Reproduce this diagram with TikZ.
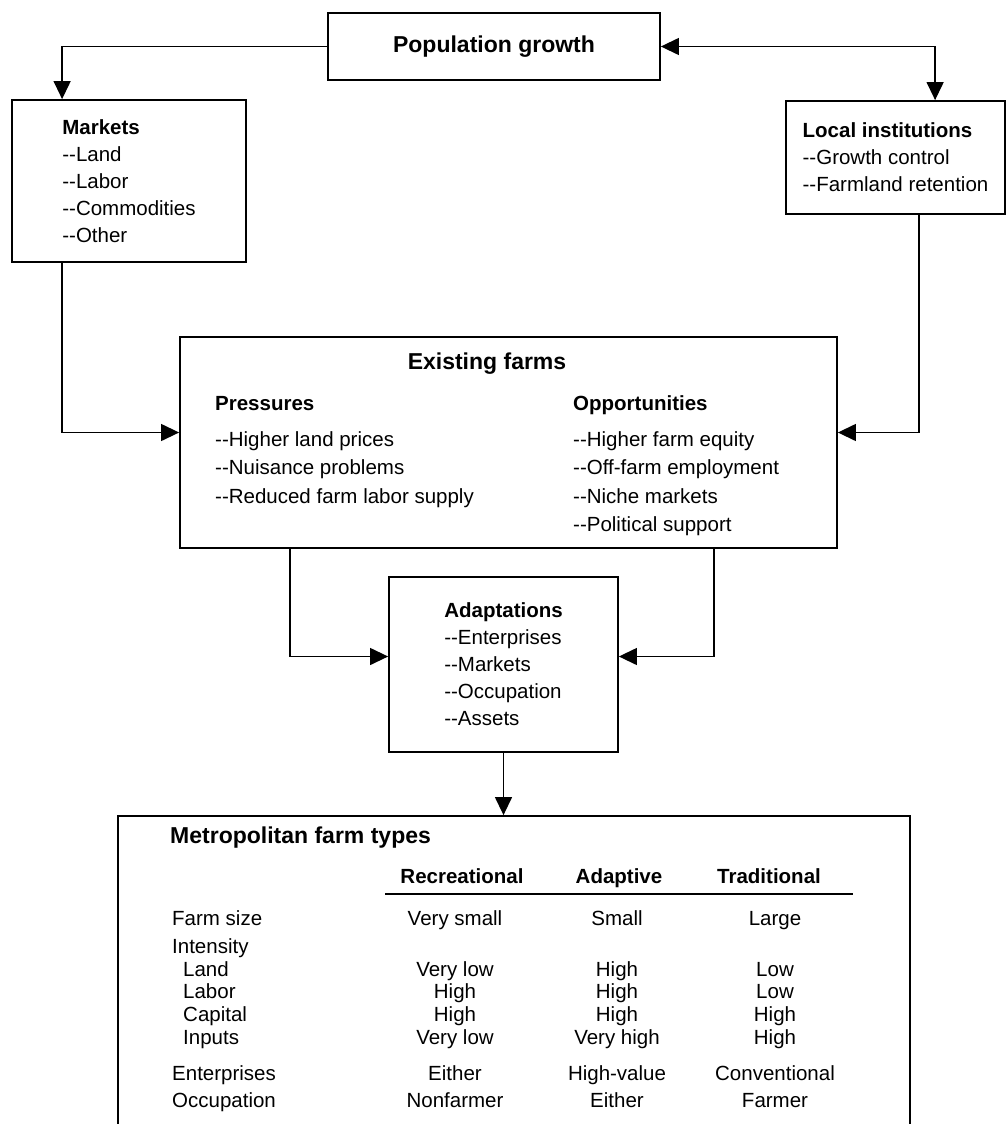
\documentclass[tikz,border=0pt]{standalone}
\usepackage{fontspec}
\setmainfont{Liberation Sans}
\usetikzlibrary{arrows.meta}

\tikzset{
  >={Triangle[length=18pt,width=17pt]},
  blok/.style={draw,line width=1.8pt,inner sep=0pt,align=left,font=\fontsize{20.5}{27}\selectfont},
  txt/.style={inner sep=0pt,align=left,text height=15pt,text depth=4.5pt,font=\fontsize{20.5}{27}\selectfont},
  kop/.style={txt,font=\fontsize{20.5}{27}\selectfont\bfseries},
  titel/.style={txt,text height=16.5pt,font=\fontsize{23}{27}\selectfont\bfseries},
  pijl/.style={line width=1.3pt,->},
}

\begin{document}
\begin{tikzpicture}[x=1pt,y=-1pt]
\useasboundingbox (0,0) rectangle (1007,1124);
\clip (0,0) rectangle (1007,1124);
%Построение блоков
\node[blok,minimum width=332pt,minimum height=67pt,font=\fontsize{23}{27}\selectfont\bfseries] (pop) at (494,46.5) {Population growth};
\node[blok,minimum width=234pt,minimum height=162pt] (mk) at (129,181)
  {\textbf{Markets}\\-{}-Land\\-{}-Labor\\-{}-Commodities\\-{}-Other};
\node[blok,minimum width=219pt,minimum height=113pt] (li) at (895.5,157.5)
  {\textbf{Local institutions}\\-{}-Growth control\\-{}-Farmland retention};
\node[blok,minimum width=657pt,minimum height=211pt] (ef) at (508.5,442.5) {};
\node[blok,minimum width=229pt,minimum height=175pt] (ad) at (503.5,664.5)
  {\textbf{Adaptations}\\-{}-Enterprises\\-{}-Markets\\-{}-Occupation\\-{}-Assets};
\node[blok,minimum width=792pt,minimum height=334pt] (mt) at (514,983) {};
%Текст блока Existing farms
\node[titel] (eft) at (487,363) {Existing farms};
\node[kop,anchor=west] (pr) at (215,405) {Pressures};
\node[kop,anchor=west] (op) at (573,405) {Opportunities};
\foreach \t [count=\i] in {Higher land prices,Nuisance problems,Reduced farm labor supply}
  \node[txt,anchor=west] (pr\i) at (215,{441+28.5*(\i-1)}) {-{}-\t};
\foreach \t [count=\i] in {Higher farm equity,Off-farm employment,Niche markets,Political support}
  \node[txt,anchor=west] (op\i) at (573,{441+28.5*(\i-1)}) {-{}-\t};
%Связи
\draw[pijl] (pop.west) -| ([xshift=51pt]mk.north west);
\draw[pijl,<->] (pop.east) -| ([xshift=150pt]li.north west);
\draw[pijl] ([xshift=51pt]mk.south west) |- ([yshift=10pt]ef.west);
\draw[pijl] ([xshift=134pt]li.south west) |- ([yshift=10pt]ef.east);
\draw[pijl] ([xshift=111pt]ef.south west) |- ([yshift=8pt]ad.west);
\draw[pijl] ([xshift=535pt]ef.south west) |- ([yshift=8pt]ad.east);
\draw[pijl] (ad.south) -- (ad.south |- mt.north);
%Таблица типов ферм
\node[titel,anchor=west] (mtt) at (170,837) {Metropolitan farm types};
\foreach \t/\x [count=\i] in {Recreational/462,Adaptive/619,Traditional/769}
  \node[kop] (h\i) at (\x,878) {\t};
\draw[line width=1.8pt] (385,894) -- (853,894);
\node[txt,anchor=west] (int) at (172,948) {Intensity};
\foreach \lab/\lx/\y/\a/\b/\c [count=\i] in {
    Farm size/172/920/Very small/Small/Large,
    Land/183/971/Very low/High/Low,
    Labor/183/993/High/High/Low,
    Capital/183/1016/High/High/High,
    Inputs/183/1039/Very low/Very high/High,
    Enterprises/172/1075/Either/High-value/Conventional,
    Occupation/172/1102/Nonfarmer/Either/Farmer}{
  \node[txt,anchor=west] (l\i) at (\lx,\y) {\lab};
  \node[txt] (a\i) at (455,\y) {\a};
  \node[txt] (b\i) at (617,\y) {\b};
  \node[txt] (c\i) at (775,\y) {\c};
}
\end{tikzpicture}
\end{document}
